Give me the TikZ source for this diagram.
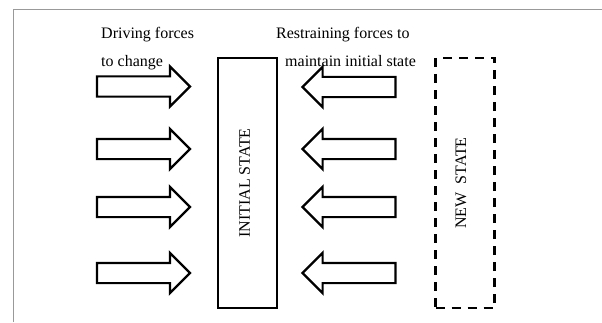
\documentclass[tikz,border=0pt]{standalone}
\usepackage{fontspec}
\setmainfont{Liberation Serif}
\usetikzlibrary{
	shapes.arrows,
	positioning
	}
\tikzstyle{fleche-std}=[draw,line width=2.2pt,single arrow,single arrow head extend=10pt,single arrow head indent=0pt,inner xsep=0pt,inner ysep=9pt,minimum height=93pt,outer sep=0pt]
\tikzstyle{etat-std}=[draw,line width=2pt,minimum width=59pt,minimum height=250pt,inner sep=0pt]
\tikzstyle{texte-std}=[font=\fontsize{16}{19}\selectfont,inner sep=0pt]

\begin{document}
\begin{tikzpicture}[x=1pt,y=1pt]
\useasboundingbox (0,0) rectangle (602,322);
\draw[gray!80,line width=1pt] (13,0) -- (13,312) -- (602,312);

\node[etat-std] (initial) at (247.75,139) {};
\node[etat-std,dashed,line width=2.5pt,dash pattern=on 9pt off 7pt] (nouveau) at (465,139) {};
\node[texte-std,rotate=90] at ([xshift=-3pt]initial.center) {INITIAL STATE};
\node[texte-std,rotate=90] at ([xshift=-4pt]nouveau.center) {NEW\ \ STATE};

% forces motrices
\node[fleche-std,anchor=tail] (pousse1) at (97,235.5) {};
\node[fleche-std,anchor=tail] (pousse2) at (97,173) {};
\node[fleche-std,anchor=tail] (pousse3) at (97,115) {};
\node[fleche-std,anchor=tail] (pousse4) at (97,49) {};

% forces de resistance
\node[fleche-std,shape border rotate=180,anchor=tail] (frein1) at (395.5,235) {};
\node[fleche-std,shape border rotate=180,anchor=tail] (frein2) at (395.5,173) {};
\node[fleche-std,shape border rotate=180,anchor=tail] (frein3) at (395.5,115) {};
\node[fleche-std,shape border rotate=180,anchor=tail] (frein4) at (395.5,49) {};

\node[texte-std,anchor=base west] (moteur1) at (101,283) {Driving forces};
\node[texte-std,anchor=base west] (moteur2) at (101,255) {to change};
\node[texte-std,anchor=base west] (frein-a) at (276,283) {Restraining forces to};
\node[texte-std,anchor=base west] (frein-b) at (285,255) {maintain initial state};
\end{tikzpicture}
\end{document}
